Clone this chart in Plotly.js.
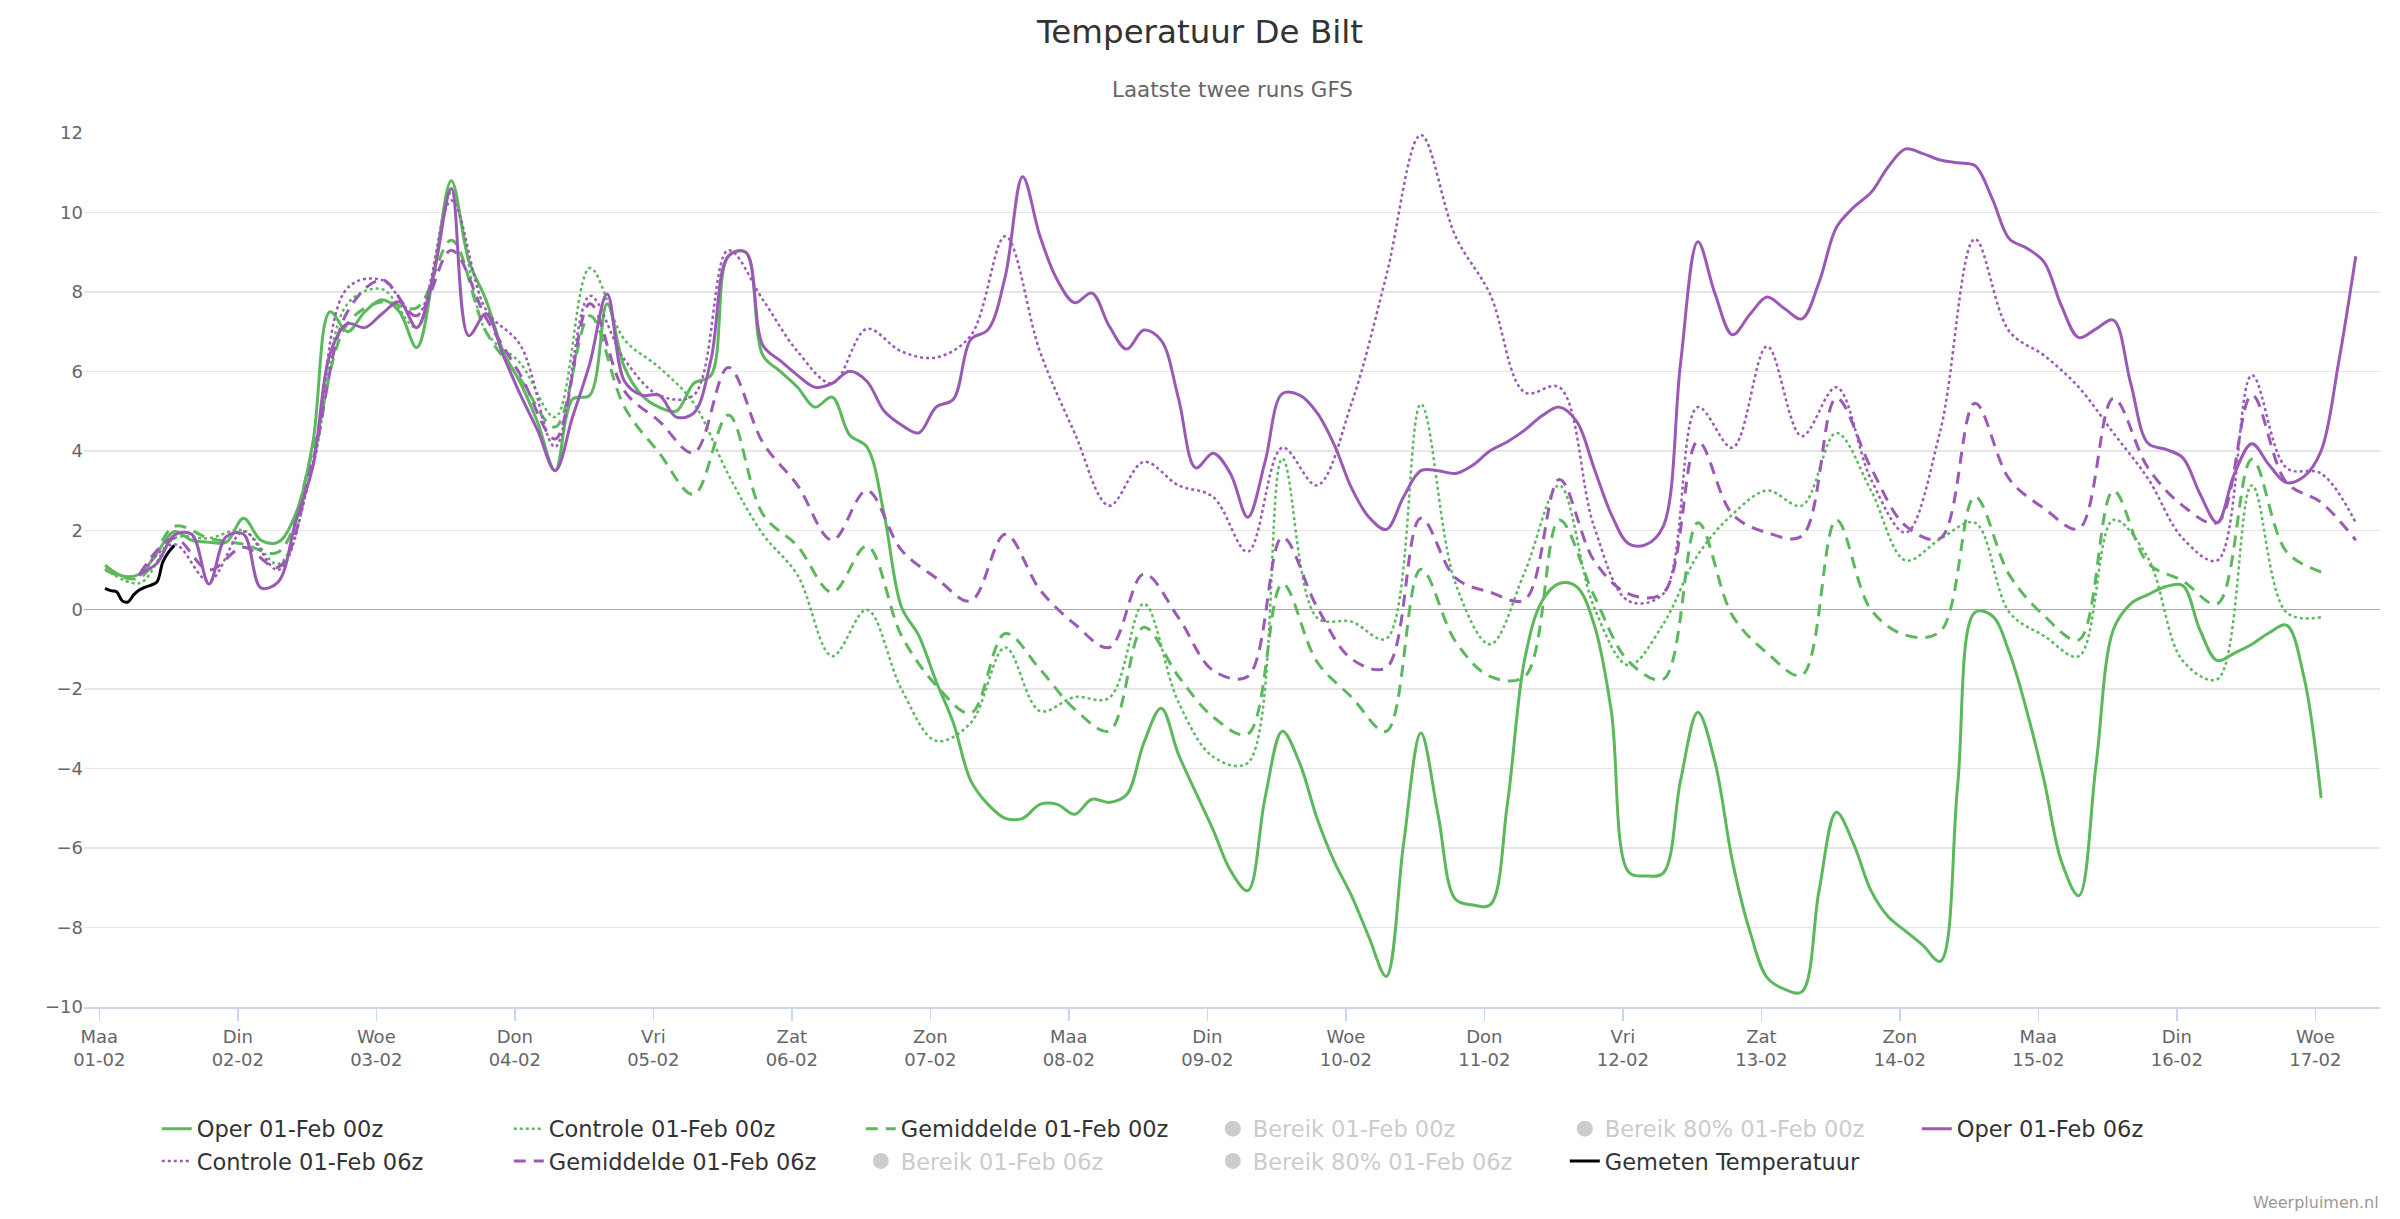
<!DOCTYPE html>
<html>
<head>
<meta charset="utf-8">
<script src="https://cdn.plot.ly/plotly-3.0.1.min.js"></script>
<style>
  html, body { margin: 0; padding: 0; background: #ffffff; }
  #chart { width: 2400px; height: 1219px; }
</style>
</head>
<body>
<div id="chart"></div>
<script>
// ---- Data (3-hourly grid, starting 01-02 01:00 local time) ----
// Oper 01-Feb 00z: steps k = 0..128
const oper00 = [1.12,0.85,0.9,1.43,1.97,1.75,1.7,1.7,2.3,1.75,1.7,2.4,4.2,7.5,7.0,7.5,7.8,7.5,6.6,8.5,
  10.8,8.8,7.8,6.5,5.7,4.7,3.5,5.3,5.4,7.7,6.1,5.4,5.1,5.0,5.7,5.9,8.9,9.0,6.4,6.0,
  5.6,5.1,5.35,4.4,4.1,2.4,0.07,-0.65,-1.8,-2.85,-4.3,-4.9,-5.25,-5.25,-4.9,-4.9,-5.15,-4.77,-4.85,-4.66,
  -3.35,-2.48,-3.64,-4.6,-5.54,-6.56,-7.07,-4.74,-3.06,-3.86,-5.25,-6.34,-7.2,-8.24,-9.23,-5.9,-3.1,-5.17,-7.29,-7.43,
  -7.43,-4.88,-1.24,0.22,0.66,0.58,-0.36,-2.55,-6.6,-6.7,-6.63,-4.3,-2.58,-3.86,-6.34,-8.09,-9.26,-9.55,-9.62,-7.07,
  -5.1,-5.9,-7.07,-7.73,-8.09,-8.45,-8.85,-4.45,-0.07,-0.15,-1.09,-2.55,-4.3,-6.34,-7.2,-3.9,-0.5,0.15,0.38,0.58,
  0.61,-0.51,-1.28,-1.09,-0.87,-0.58,-0.39,-1.68,-4.74];
// Oper 01-Feb 06z: steps k = 2..130
const oper06 = [0.9,1.17,1.88,1.9,0.65,1.84,1.9,0.55,0.7,2.2,3.6,6.45,7.2,7.1,7.45,7.75,7.1,8.5,
  10.6,6.9,7.45,6.4,5.4,4.5,3.5,4.85,6.2,7.95,5.75,5.4,5.4,4.85,4.95,6.3,8.9,9.0,6.65,6.27,
  5.9,5.6,5.7,6.0,5.75,5.0,4.65,4.45,5.1,5.3,6.8,7.05,8.4,10.9,9.4,8.3,7.73,7.97,7.14,6.56,
  7.04,6.78,5.32,3.57,3.94,3.43,2.33,3.72,5.44,5.4,4.96,4.15,3.06,2.33,2.02,2.84,3.5,3.5,3.43,3.64,
  4.0,4.23,4.52,4.88,5.1,4.74,3.57,2.4,1.66,1.64,2.1,6.2,9.26,7.94,6.92,7.43,7.87,7.58,7.32,8.24,
  9.62,10.13,10.5,11.15,11.6,11.48,11.32,11.25,11.18,10.35,9.33,9.1,8.75,7.65,6.85,7.07,7.29,5.7,4.19,4.04,
  3.83,2.92,2.19,3.43,4.18,3.64,3.2,3.35,4.0,6.2,8.9];
// 6-hourly series. 00z run: k = 0,2,...,128 ; 06z run: k = 2,4,...,130
const controle00 = [1.03,0.67,1.8,1.8,2.0,1.15,3.6,7.7,8.07,7.1,10.5,7.0,6.2,4.85,8.6,6.8,6.1,5.2,3.4,1.9,
  0.87,-1.17,0.0,-2.0,-3.3,-2.85,-0.95,-2.55,-2.2,-2.22,0.15,-2.33,-3.7,-3.86,3.8,-0.2,-0.3,-0.73,5.17,0.66,
  -0.87,0.95,3.13,0.07,-1.4,-0.36,1.38,2.4,3.0,2.62,4.45,3.0,1.24,1.78,2.19,-0.07,-0.66,-1.17,2.26,1.3,
  -1.28,-1.75,3.13,-0.07,-0.19];
const gemiddelde00 = [1.0,0.8,2.1,1.8,1.65,1.45,4.0,7.2,7.75,7.6,9.3,7.0,5.8,4.6,7.4,5.1,3.95,2.9,4.9,2.4,
  1.6,0.44,1.6,-0.65,-1.9,-2.6,-0.6,-1.5,-2.5,-3.05,-0.44,-1.68,-2.7,-3.13,0.65,-1.31,-2.2,-3.06,1.02,-0.8,
  -1.68,-1.68,2.26,0.36,-1.3,-1.75,2.19,-0.15,-1.09,-1.65,2.26,0.0,-0.64,-0.55,2.84,0.87,-0.15,-0.76,2.99,1.17,
  0.73,0.15,3.79,1.46,0.95];
const controle06 = [0.85,1.65,0.72,1.97,1.0,3.7,8.1,8.3,7.4,10.3,7.55,6.65,4.1,7.9,6.3,5.4,5.4,9.05,7.8,6.5,
  5.7,7.07,6.5,6.35,6.9,9.4,6.5,4.45,2.62,3.72,3.13,2.84,1.46,4.08,3.13,5.2,8.4,11.95,9.4,7.94,
  5.47,5.6,2.1,0.22,0.4,5.1,4.08,6.63,4.37,5.6,3.28,1.94,4.5,9.33,7.0,6.4,5.6,4.45,3.3,1.8,
  1.24,5.9,3.57,3.43,2.19];
const gemiddelde06 = [0.9,1.8,1.0,1.57,1.07,3.77,7.5,8.3,7.4,9.05,7.35,5.9,4.3,7.7,5.5,4.75,3.95,6.1,4.2,3.13,
  1.75,3.0,1.5,0.8,0.22,1.9,0.5,-0.36,-0.95,0.9,-0.2,-1.53,-1.68,1.82,0.07,-1.24,-1.46,2.3,0.8,0.44,
  0.25,3.28,1.24,0.4,0.42,4.23,2.4,1.94,1.85,5.32,3.57,2.11,1.8,5.2,3.28,2.55,2.04,5.32,3.57,2.62,
  2.19,5.4,3.2,2.7,1.75];
// Gemeten temperatuur: hourly from 01-02 01:00
const gemeten = [0.54,0.48,0.45,0.22,0.2,0.38,0.5,0.57,0.62,0.7,1.2,1.45,1.62];

// Tick labels
const dayNames = ['Maa','Din','Woe','Don','Vri','Zat','Zon','Maa','Din','Woe','Don','Vri','Zat','Zon','Maa','Din','Woe'];
const dayDates = ['01-02','02-02','03-02','04-02','05-02','06-02','07-02','08-02','09-02','10-02','11-02','12-02','13-02','14-02','15-02','16-02','17-02'];
const yTicks = [-10,-8,-6,-4,-2,0,2,4,6,8,10,12];

// ---- Helpers ----
const HOUR = 3600 * 1000;
const day0 = Date.UTC(2021, 1, 1, 0, 0);     // 01-02 00:00 (local)
const gridStart = day0 + 1 * HOUR;           // first grid point 01:00 local
function times(firstK, n, stepK, stepHours) {
  const out = [];
  for (let i = 0; i < n; i++) out.push(gridStart + (firstK + i * stepK) * stepHours * HOUR);
  return out;
}

const GREEN = '#5cb85c';
const PURPLE = '#9b59b6';
const GREY = '#cccccc';

function line(name, x, y, color, dash, width) {
  return {
    type: 'scatter', mode: 'lines', name: name, x: x, y: y,
    line: { color: color, width: width, dash: dash, shape: 'spline', smoothing: 1 },
    hoverinfo: 'skip'
  };
}
function bereik(name) {
  return {
    type: 'scatter', mode: 'markers', name: '<span style="color:#cccccc">' + name + '</span>',
    x: [null], y: [null], marker: { color: GREY, size: 16, symbol: 'circle' }, hoverinfo: 'skip'
  };
}

const traces = [
  line('Oper 01-Feb 00z', times(0, oper00.length, 1, 3), oper00, GREEN, 'solid', 3),
  line('Controle 01-Feb 00z', times(0, controle00.length, 2, 3), controle00, GREEN, 'dot', 2.5),
  line('Gemiddelde 01-Feb 00z', times(0, gemiddelde00.length, 2, 3), gemiddelde00, GREEN, '12px,8px', 3),
  bereik('Bereik 01-Feb 00z'),
  bereik('Bereik 80% 01-Feb 00z'),
  line('Oper 01-Feb 06z', times(2, oper06.length, 1, 3), oper06, PURPLE, 'solid', 3),
  line('Controle 01-Feb 06z', times(2, controle06.length, 2, 3), controle06, PURPLE, 'dot', 2.5),
  line('Gemiddelde 01-Feb 06z', times(2, gemiddelde06.length, 2, 3), gemiddelde06, PURPLE, '12px,8px', 3),
  bereik('Bereik 01-Feb 06z'),
  bereik('Bereik 80% 01-Feb 06z'),
  line('Gemeten Temperatuur', times(0, gemeten.length, 1, 1), gemeten, '#000000', 'solid', 3)
];

const tickVals = dayDates.map((d, i) => day0 + i * 24 * HOUR);
const tickText = dayDates.map((d, i) => dayNames[i] + '<br>' + d);

const FONT = '"DejaVu Sans", "Open Sans", sans-serif';

const layout = {
  width: 2400, height: 1219,
  paper_bgcolor: '#ffffff', plot_bgcolor: '#ffffff',
  font: { family: FONT, color: '#666666', size: 18 },
  margin: { l: 84, r: 20, t: 133, b: 212, pad: 0 },
  title: {
    text: 'Temperatuur De Bilt',
    font: { family: FONT, size: 32.5, color: '#333333' },
    x: 0.5, xanchor: 'center', y: 0.974, yanchor: 'middle'
  },
  showlegend: true,
  legend: {
    orientation: 'h', x: 0.0317, xanchor: 'left', y: -0.115, yanchor: 'top',
    entrywidth: 307, entrywidthmode: 'pixels',
    font: { family: FONT, size: 22.5, color: '#333333' },
    itemclick: false, itemdoubleclick: false
  },
  xaxis: {
    type: 'date',
    range: [day0 - 2.65 * HOUR, day0 + (16 * 24 + 11.2) * HOUR],
    tickmode: 'array', tickvals: tickVals, ticktext: tickText,
    ticks: 'outside', ticklen: 12, tickwidth: 1.5, tickcolor: '#ccd6eb',
    showline: true, linecolor: '#ccd6eb', linewidth: 2,
    showgrid: false, zeroline: false,
    tickfont: { family: FONT, size: 18, color: '#666666' },
    fixedrange: true
  },
  yaxis: {
    range: [-10, 12],
    tickmode: 'array', tickvals: yTicks,
    showgrid: true, gridcolor: '#e6e6e6', gridwidth: 1.5,
    zeroline: true, zerolinecolor: '#aaaaaa', zerolinewidth: 1.5,
    showline: false, ticks: '',
    tickfont: { family: FONT, size: 18, color: '#666666' },
    fixedrange: true
  },
  annotations: [
    {
      text: 'Laatste twee runs GFS', xref: 'paper', yref: 'paper',
      x: 0.5, y: 1.05, xanchor: 'center', yanchor: 'middle', showarrow: false,
      font: { family: FONT, size: 21.4, color: '#666666' }
    },
    {
      text: 'Weerpluimen.nl', xref: 'paper', yref: 'paper',
      x: 1.0004, y: -0.224, xanchor: 'right', yanchor: 'middle', showarrow: false,
      font: { family: FONT, size: 16, color: '#999999' }
    }
  ]
};

Plotly.newPlot('chart', traces, layout, { staticPlot: true, displayModeBar: false });
</script>
</body>
</html>
